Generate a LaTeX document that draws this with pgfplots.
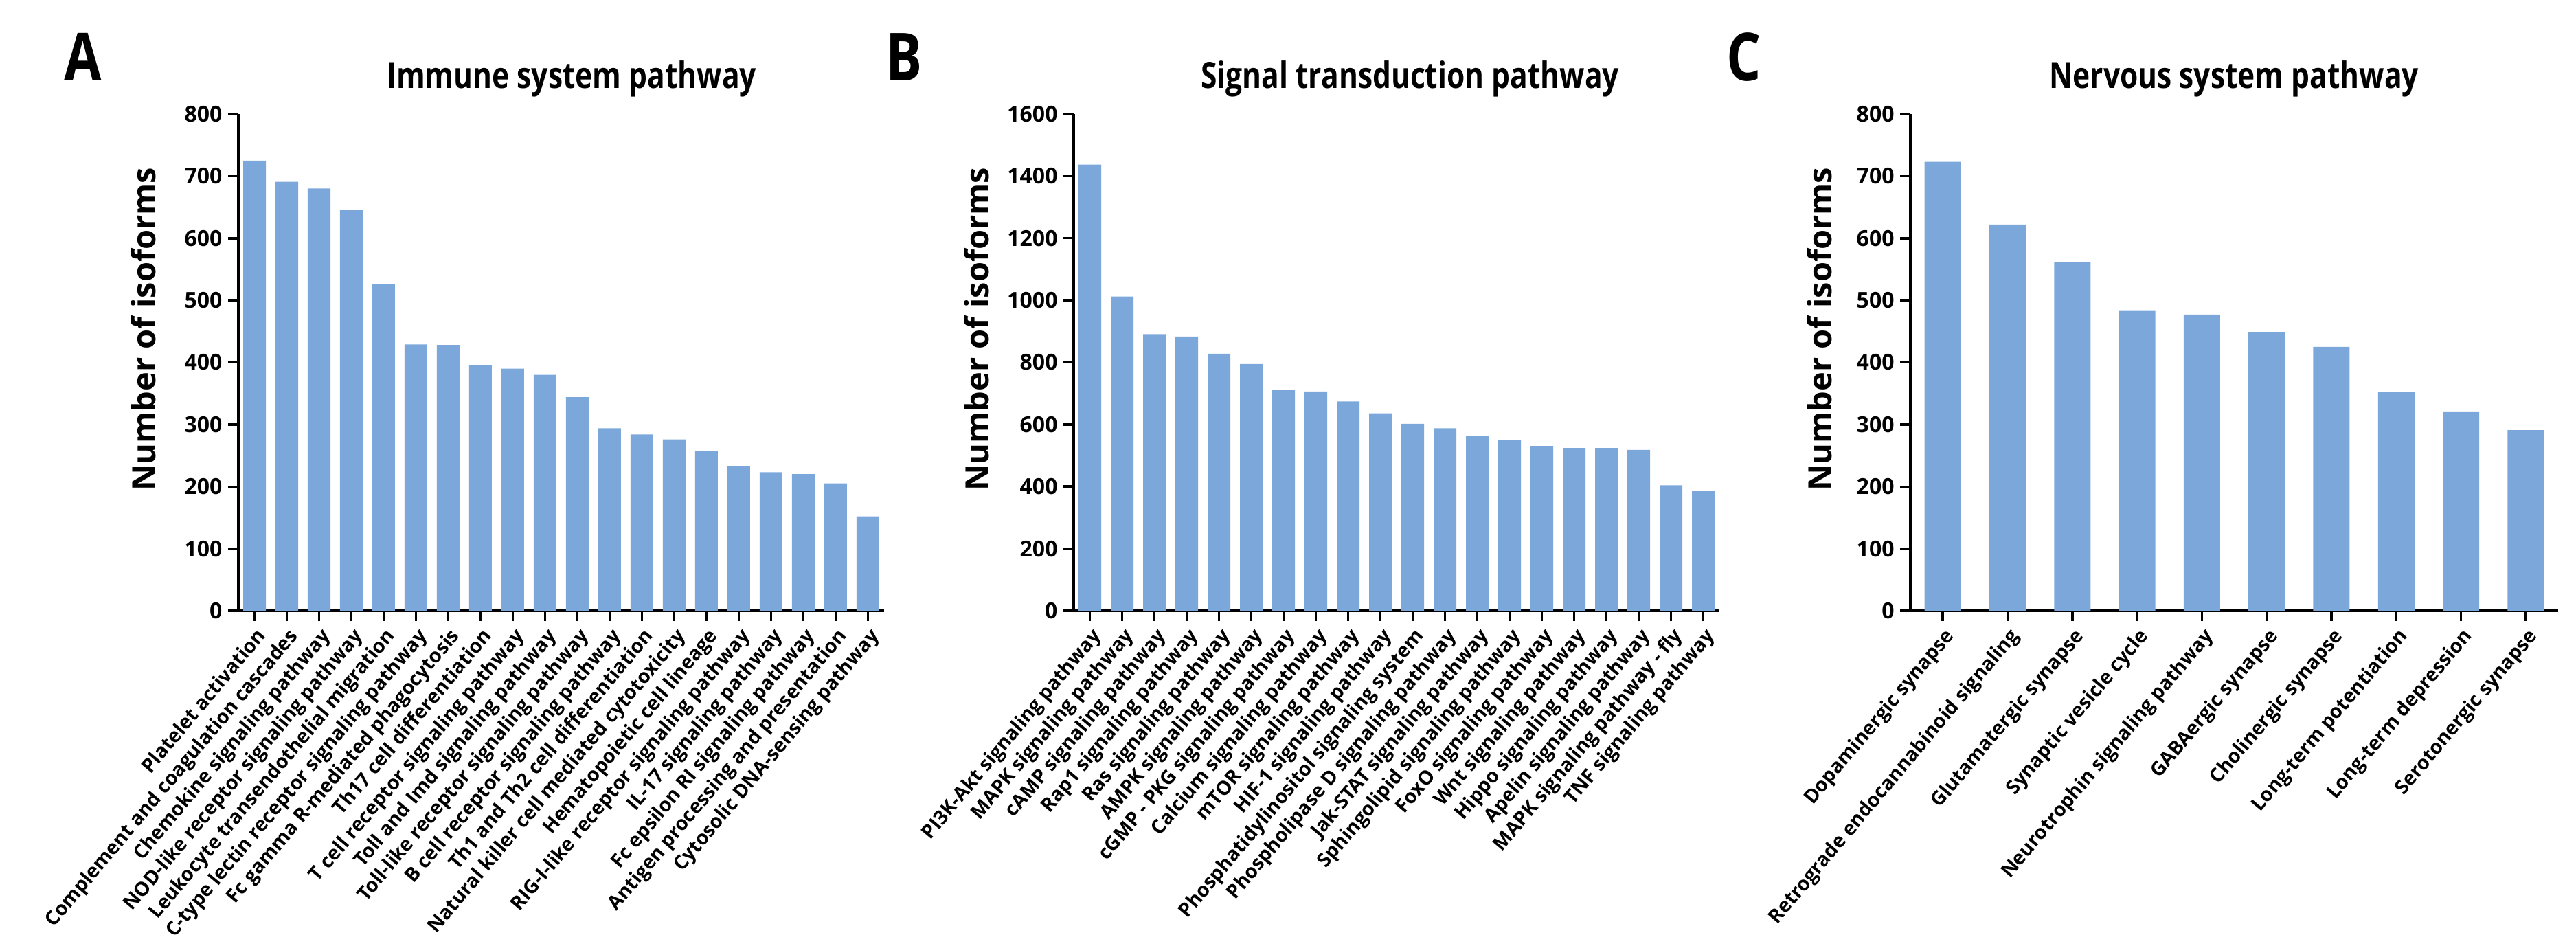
\documentclass[border=0pt]{standalone}
\usepackage{fontspec}
\setmainfont{Open Sans}
\usepackage{graphicx}
\usepackage{pgfplots}
\pgfplotsset{compat=1.18}
\definecolor{barblue}{RGB}{124,167,219}

\pgfplotsset{
  panel/.style={
    scale only axis, height=144.6pt,
    axis x line=bottom, axis y line=left,
    axis line style={-, line width=0.7pt, black},
    tick style={black, line width=0.7pt},
    tick align=outside, major tick length=3pt,
    ymin=0, xtick=data, enlarge x limits=false,
    /pgf/number format/assume math mode=true,
    /pgf/number format/1000 sep={},
    scaled y ticks=false,
    yticklabel style={font=\fontsize{6.4}{7}\selectfont\bfseries, inner sep=1.5pt},
    xticklabel style={font=\fontsize{5.7}{6.5}\selectfont\bfseries, rotate=50, anchor=north east, inner sep=1pt},
    ylabel={Number of isoforms},
    ylabel style={font=\fontsize{9.4}{10}\selectfont\bfseries, anchor=center},
    title style={anchor=base, font=\fontsize{10.5}{12}\selectfont\bfseries},
    ybar, bar shift=0pt,
  },
  bars/.style={fill=barblue, draw=none},
}

\begin{document}
\begin{tikzpicture}
\path[use as bounding box] (0,0) rectangle (750pt,275.4pt);

\node[anchor=base west, inner sep=0, font=\fontsize{19.3}{20}\selectfont\bfseries] at (18.4pt,251.8pt) {\scalebox{0.82}[1]{A}};
\node[anchor=base west, inner sep=0, font=\fontsize{19.3}{20}\selectfont\bfseries] at (257.6pt,251.8pt) {\scalebox{0.82}[1]{B}};
\node[anchor=base west, inner sep=0, font=\fontsize{19.3}{20}\selectfont\bfseries] at (502.4pt,251.8pt) {\scalebox{0.82}[1]{C}};

% Panel A
\begin{axis}[panel, at={(69.4pt,97.6pt)}, anchor=south west,
  width=188pt, bar width=6.6pt,
  xmin=-0.5, xmax=19.5, ymax=800, ytick distance=100,
  title={\scalebox{0.81}[1]{Immune system pathway}},
  title style={at={(axis description cs:0.516,1.011)}},
  ylabel style={at={(axis description cs:-0.147,0.567)}},
  xticklabels={{Platelet activation},{Complement and coagulation cascades},{Chemokine signaling pathway},{NOD-like receptor signaling pathway},{Leukocyte transendothelial migration},{C-type lectin receptor signaling pathway},{Fc gamma R-mediated phagocytosis},{Th17 cell differentiation},{T cell receptor signaling pathway},{Toll and Imd signaling pathway},{Toll-like receptor signaling pathway},{B cell receptor signaling pathway},{Th1 and Th2 cell differentiation},{Natural killer cell mediated cytotoxicity},{Hematopoietic cell lineage},{RIG-I-like receptor signaling pathway},{IL-17 signaling pathway},{Fc epsilon RI signaling pathway},{Antigen processing and presentation},{Cytosolic DNA-sensing pathway}},
]
\addplot[bars] coordinates {(0,725) (1,691) (2,680) (3,646) (4,526) (5,429) (6,428) (7,395) (8,390) (9,380) (10,344) (11,294) (12,284) (13,276) (14,257) (15,233) (16,223) (17,220) (18,205) (19,152)};
\end{axis}

% Panel B
\begin{axis}[panel, at={(312.6pt,97.6pt)}, anchor=south west,
  width=188pt, bar width=6.6pt,
  xmin=-0.5, xmax=19.5, ymax=1600, ytick distance=200,
  title={\scalebox{0.81}[1]{Signal transduction pathway}},
  title style={at={(axis description cs:0.521,1.011)}},
  ylabel style={at={(axis description cs:-0.150,0.567)}},
  xticklabels={{PI3K-Akt signaling pathway},{MAPK signaling pathway},{cAMP signaling pathway},{Rap1 signaling pathway},{Ras signaling pathway},{AMPK signaling pathway},{cGMP - PKG signaling pathway},{Calcium signaling pathway},{mTOR signaling pathway},{HIF-1 signaling pathway},{Phosphatidylinositol signaling system},{Phospholipase D signaling pathway},{Jak-STAT signaling pathway},{Sphingolipid signaling pathway},{FoxO signaling pathway},{Wnt signaling pathway},{Hippo signaling pathway},{Apelin signaling pathway},{MAPK signaling pathway - fly},{TNF signaling pathway}},
]
\addplot[bars] coordinates {(0,1437) (1,1012) (2,891) (3,883) (4,828) (5,795) (6,711) (7,706) (8,674) (9,636) (10,602) (11,588) (12,564) (13,551) (14,531) (15,524) (16,524) (17,518) (18,404) (19,385)};
\end{axis}

% Panel C
\begin{axis}[panel, at={(556.2pt,97.6pt)}, anchor=south west,
  width=188.6pt, bar width=10.6pt,
  xmin=-0.5, xmax=9.5, ymax=800, ytick distance=100,
  title={\scalebox{0.81}[1]{Nervous system pathway}},
  title style={at={(axis description cs:0.4995,1.011)}},
  ylabel style={at={(axis description cs:-0.1405,0.567)}},
  xticklabels={{Dopaminergic synapse},{Retrograde endocannabinoid signaling},{Glutamatergic synapse},{Synaptic vesicle cycle},{Neurotrophin signaling pathway},{GABAergic synapse},{Cholinergic synapse},{Long-term potentiation},{Long-term depression},{Serotonergic synapse}},
]
\addplot[bars] coordinates {(0,723) (1,622) (2,562) (3,484) (4,477) (5,449) (6,425) (7,352) (8,321) (9,291)};
\end{axis}
\end{tikzpicture}
\end{document}
